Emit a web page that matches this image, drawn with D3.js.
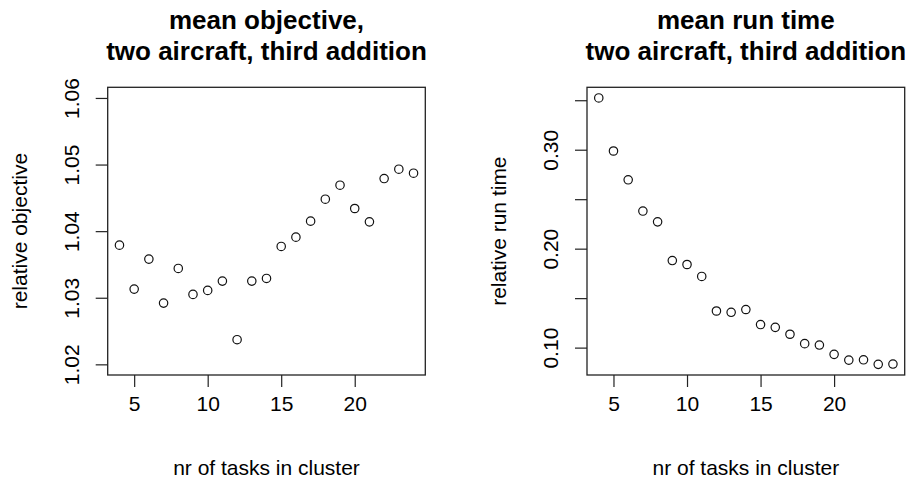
<!DOCTYPE html>
<html>
<head>
<meta charset="utf-8">
<script src="https://cdn.jsdelivr.net/npm/d3@7"></script>
<style>
  body { margin:0; background:#fff; }
  svg text { font-family: "Liberation Sans", Arial, sans-serif; fill:#000; }
  .tick line { stroke:#222; stroke-width:1.2; }
</style>
</head>
<body>
<div class="page"></div>
<script>
// cluster sizes (x)
var tasks = [4,5,6,7,8,9,10,11,12,13,14,15,16,17,18,19,20,21,22,23,24];
// mean relative objective
var objective = [1.0379,1.0313,1.0358,1.0292,1.0344,1.0305,1.0311,1.0325,1.0237,1.0325,1.0329,
                 1.0377,1.0391,1.0415,1.0448,1.0469,1.0434,1.0414,1.0479,1.0493,1.0487];
// mean relative run time
var runtime = [0.3523,0.2987,0.2696,0.2380,0.2271,0.1880,0.1840,0.1719,0.1370,0.1357,0.1385,
               0.1233,0.1205,0.1135,0.1040,0.1026,0.0932,0.0874,0.0877,0.0831,0.0834];

var xTicks = [5,10,15,20];
var objTicks = [1.02,1.03,1.04,1.05,1.06];
var objLabels = ['1.02','1.03','1.04','1.05','1.06'];
var rtTicks = [0.10,0.15,0.20,0.25,0.30,0.35];
var rtLabels = ['0.10','','0.20','','0.30',''];

var W = 912, H = 481;
var svg = d3.select('.page').append('svg')
  .attr('width', W)
  .attr('height', H);

// R style: extend range by 4%
function pad(ext) {
  var d = (ext[1]-ext[0])*0.04;
  return [ext[0]-d, ext[1]+d];
}

function panel(opt) {
  var box = opt.box;
  var x = d3.scaleLinear().domain(pad(d3.extent(tasks))).range([box.left, box.right]);
  var y = d3.scaleLinear().domain(pad(opt.ylim)).range([box.bottom, box.top]);

  var cx = (box.left+box.right)/2;
  var t = svg.append('text')
    .attr('text-anchor','middle')
    .style('font-weight','bold')
    .style('font-size','26px');
  t.append('tspan').attr('x', cx).attr('y', 29).text(opt.title[0]);
  t.append('tspan').attr('x', cx).attr('y', 60).text(opt.title[1]);

  var xAxis = d3.axisBottom(x).tickValues(xTicks).tickSize(12).tickPadding(9);
  var gx = svg.append('g')
    .attr('transform','translate(0,' + box.bottom + ')')
    .call(xAxis);
  gx.select('.domain').remove();
  gx.selectAll('text').style('font-size','21px').attr('dy','0.71em');

  var yAxis = d3.axisLeft(y).tickValues(opt.yTicks).tickSize(12)
    .tickFormat(function(d, i) { return opt.yLabels[i]; });
  var gy = svg.append('g')
    .attr('transform','translate(' + box.left + ',0)')
    .call(yAxis);
  gy.select('.domain').remove();
  gy.selectAll('text')
    .style('font-size','21px')
    .attr('text-anchor','middle')
    .attr('transform','rotate(-90)')
    .attr('x', 0).attr('y', -29).attr('dy', 0);

  svg.append('rect')
    .attr('x', box.left).attr('y', box.top)
    .attr('width', box.right-box.left).attr('height', box.bottom-box.top)
    .attr('fill','none').attr('stroke','#222').attr('stroke-width',1.3);

  svg.append('g').selectAll('circle').data(opt.values)
    .enter()
    .append('circle')
    .attr('cx', function(d, i) { return x(tasks[i]); })
    .attr('cy', function(d) { return y(d); })
    .attr('r', 4.2)
    .attr('fill','none')
    .attr('stroke','#111')
    .attr('stroke-width',1.2);

  svg.append('text')
    .attr('x', cx).attr('y', 475)
    .attr('text-anchor','middle')
    .style('font-size','21px')
    .text('nr of tasks in cluster');

  svg.append('text')
    .attr('transform','translate(' + (box.left-80.7) + ',' + (box.top+box.bottom)/2 + ') rotate(-90)')
    .attr('text-anchor','middle')
    .style('font-size','21px')
    .text(opt.ylab);
}

panel({
  box: {left:107.7, right:425.3, top:87.3, bottom:375},
  values: objective,
  ylim: [1.02, 1.06],
  yTicks: objTicks, yLabels: objLabels,
  title: ['mean objective,', 'two aircraft, third addition'],
  ylab: 'relative objective'
});

panel({
  box: {left:587, right:904.7, top:87.3, bottom:375},
  values: runtime,
  ylim: d3.extent(runtime),
  yTicks: rtTicks, yLabels: rtLabels,
  title: ['mean run time', 'two aircraft, third addition'],
  ylab: 'relative run time'
});
</script>
</body>
</html>
